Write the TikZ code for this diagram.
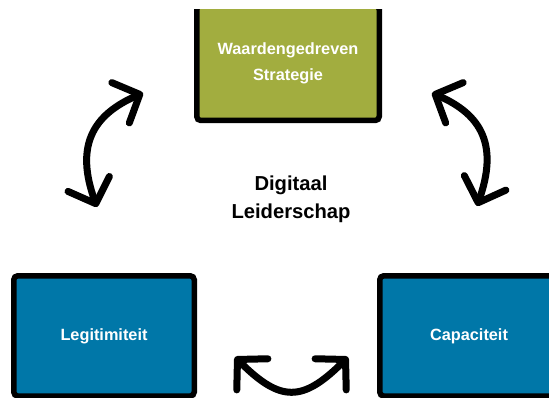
\documentclass[tikz,border=0pt]{standalone}
\usepackage{fontspec}
\setmainfont{Liberation Sans}
\usetikzlibrary{arrows.meta}
\definecolor{boxgreen}{HTML}{A2AD3F}
\definecolor{boxblue}{HTML}{0077A8}
\tikzset{
  boxnode/.style={draw=black, line width=5.5pt, rounded corners=4pt, inner sep=0pt,
    text=white, align=center, font=\bfseries\fontsize{16.3}{25.7}\selectfont},
  cycarrow/.style={line width=7pt, line cap=round,
    arrows={Straight Barb[length=21pt,width=44pt,round]-Straight Barb[length=21pt,width=44pt,round]}},
  centertext/.style={align=center, text=black, font=\bfseries\fontsize{20.2}{28}\selectfont}
}
\begin{document}
\begin{tikzpicture}[x=1pt,y=-1pt]
\useasboundingbox (0,0) rectangle (549,398);
\begin{scope}
  \clip (0,10) rectangle (549,398);
  \node[boxnode, fill=boxgreen, minimum width=182.5pt, minimum height=115pt] (strat) at (288,63) {Waardengedreven\\Strategie};
\end{scope}
\node[boxnode, fill=boxblue, minimum width=180.5pt, minimum height=120.25pt] (legit) at (104,335.9) {Legitimiteit};
\node[boxnode, fill=boxblue, minimum width=178.5pt, minimum height=120.25pt] (capa) at (469,335.9) {Capaciteit};
\node[centertext] (dl) at (291,199) {Digitaal\\Leiderschap};
\coordinate (l1) at (97,207);
\coordinate (l2) at (143,93);
\coordinate (r1) at (477,206);
\coordinate (r2) at (432,93);
\coordinate (b1) at (235,357);
\coordinate (b2) at (348,357);
\draw[cycarrow] (l1) .. controls (75,146) and (92.4,115) .. (l2);
\draw[cycarrow] (r1) .. controls (498,146) and (482.6,115) .. (r2);
\draw[cycarrow] (b1) .. controls (280.4,402.4) and (302.6,402.4) .. (b2);
\end{tikzpicture}
\end{document}
